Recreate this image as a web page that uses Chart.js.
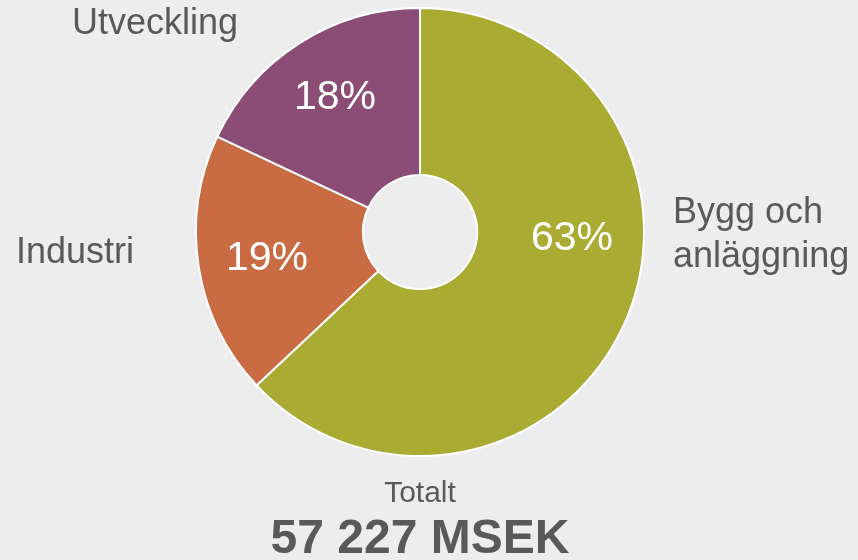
<!DOCTYPE html>
<html>
<head>
<meta charset="utf-8">
<script src="https://cdn.jsdelivr.net/npm/chart.js@4"></script>
<style>
  html, body { margin: 0; padding: 0; background: #ededed; }
  #wrap { width: 858px; height: 560px; position: relative; }
</style>
</head>
<body>
<div id="wrap"><canvas id="chart" width="858" height="560"></canvas></div>
<script>
// Data
const categories = ["Bygg och anläggning", "Industri", "Utveckling"];
const shares = [63, 19, 18];
const colors = ["#a9ab33", "#c96c43", "#8b4d75"];
const totalLabel = "Totalt";
const totalValue = "57 227 MSEK";

const FONT = "'Liberation Sans', Arial, sans-serif";
const TEXT_GREY = "#595959";

// label offsets from the doughnut centre (pixels)
const pctOffsets = [[152, 7], [-153, 27], [-85, -134]];
const nameOffsets = [
  { dx: 253, lines: ["Bygg och", "anläggning"], dy: -19, align: "left" },
  { dx: -345, lines: ["Industri"], dy: 21, align: "center" },
  { dx: -265, lines: ["Utveckling"], dy: -208, align: "center" },
];

const labelPlugin = {
  id: "labels",
  afterDatasetsDraw(chart) {
    const ctx = chart.ctx;
    const arc = chart.getDatasetMeta(0).data[0];
    const cx = arc.x, cy = arc.y;
    ctx.save();
    ctx.textBaseline = "middle";

    // percentages inside slices
    ctx.fillStyle = "#ffffff";
    ctx.font = "41px " + FONT;
    ctx.textAlign = "center";
    shares.forEach((v, i) => {
      ctx.fillText(v + "%", cx + pctOffsets[i][0], cy + pctOffsets[i][1]);
    });

    // category names outside
    ctx.fillStyle = TEXT_GREY;
    ctx.font = "36px " + FONT;
    nameOffsets.forEach((n) => {
      ctx.textAlign = n.align;
      n.lines.forEach((line, k) => {
        ctx.fillText(line, cx + n.dx, cy + n.dy + k * 44);
      });
    });

    // total below
    ctx.textAlign = "center";
    ctx.font = "30px " + FONT;
    ctx.fillText(totalLabel, cx, cy + 262);
    ctx.font = "bold 48px " + FONT;
    ctx.fillText(totalValue, cx, cy + 308);
    ctx.restore();
  },
};

new Chart(document.getElementById("chart"), {
  type: "doughnut",
  data: {
    labels: categories,
    datasets: [{
      data: shares,
      backgroundColor: colors,
      borderColor: "#ffffff",
      borderWidth: 2,
    }],
  },
  options: {
    responsive: false,
    animation: false,
    cutout: "25.5%",
    layout: { padding: { left: 195, right: 213, top: 7, bottom: 103 } },
    plugins: {
      legend: { display: false },
      tooltip: { enabled: false },
    },
  },
  plugins: [labelPlugin],
});
</script>
</body>
</html>
